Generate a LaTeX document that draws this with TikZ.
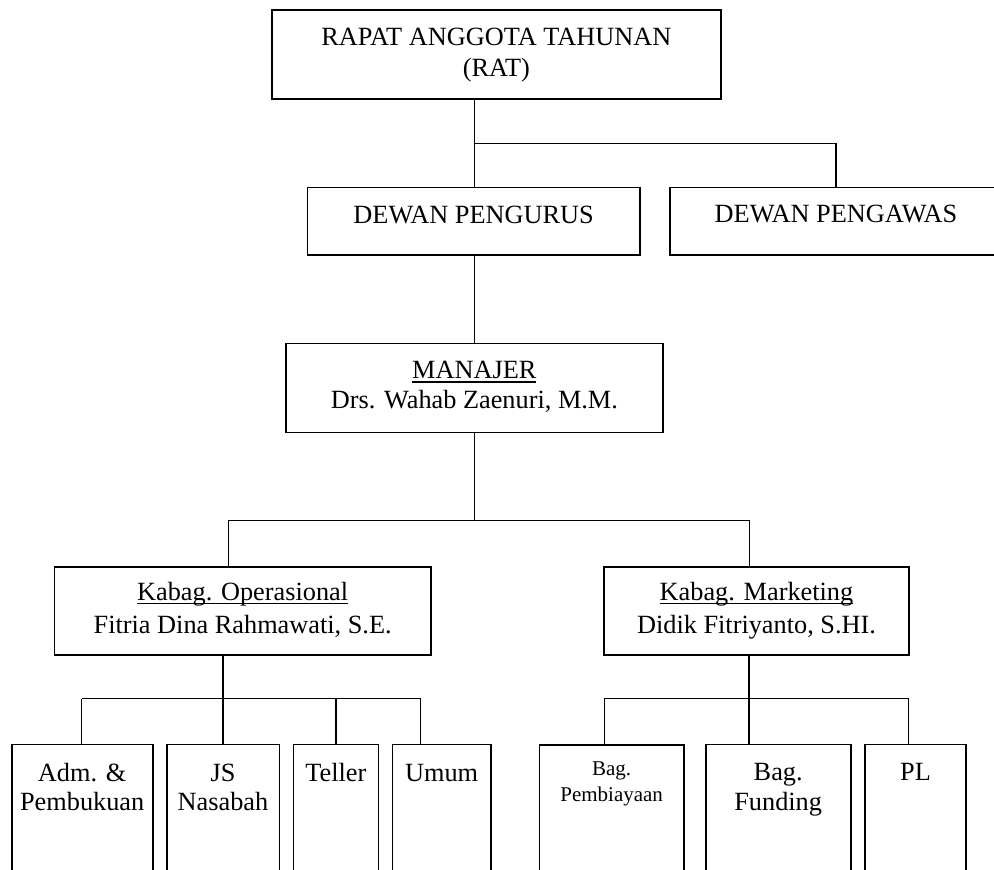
\documentclass[tikz,border=0pt]{standalone}
\usepackage{fontspec}
\setmainfont{Liberation Serif}
\newcommand\bx[6]{\parbox[c][#2pt][t]{#1pt}{\centering\fontsize{#5}{#4}\selectfont\rule{0pt}{#3pt}#6\par}}
\newcommand\myul[1]{\setbox0\hbox{#1}\rlap{\rule[-4.3pt]{\wd0}{1.3pt}}\box0}
\begin{document}
\begin{tikzpicture}[x=1pt,y=-1pt,
  box/.style={draw, line width=1.6pt, inner sep=0pt, outer sep=0pt, anchor=north west},
  conn/.style={line width=1.3pt}]
\useasboundingbox (0,0) rectangle (994,870);
\fill[white] (0,0) rectangle (994,870);
\clip (0,0) rectangle (994,870);
% boxes
\node[box] (top) at (272,10) {\bx{448.7}{89}{35}{31}{26.3}{RAPAT ANGGOTA TAHUNAN\\(RAT)}};
\node[box] (pengurus) at (307.3,187.5) {\bx{332.7}{67.5}{35.8}{30}{26.3}{DEWAN PENGURUS}};
\node[box] (pengawas) at (670,187.5) {\bx{332}{67.5}{34.5}{30}{26.3}{DEWAN PENGAWAS}};
\node[box] (manajer) at (286,343.3) {\bx{376.7}{89}{35}{30}{26.3}{\myul{MANAJER}\\Drs. Wahab Zaenuri, M.M.}};
\node[box] (kop) at (54.3,566.7) {\bx{376.7}{88.3}{33.3}{33.3}{26.3}{\myul{Kabag. Operasional}\\Fitria Dina Rahmawati, S.E.}};
\node[box] (kmk) at (604,566.7) {\bx{305}{88.3}{33.3}{33.3}{26.3}{\myul{Kabag. Marketing}\\Didik Fitriyanto, S.HI.}};
\node[box] (b1) at (11.7,744.5) {\bx{141}{140}{36.5}{29}{26.3}{Adm. \&\\Pembukuan}};
\node[box] (b2) at (166.7,744.5) {\bx{112.6}{140}{36.5}{29}{26.3}{JS\\Nasabah}};
\node[box] (b3) at (293.3,744.5) {\bx{85}{140}{36.5}{29}{26.3}{Teller}};
\node[box] (b4) at (392.3,744.5) {\bx{98.7}{140}{36.5}{29}{26.3}{Umum}};
\node[box] (b5) at (539.3,745) {\bx{144.7}{140}{30}{26.7}{21}{Bag.\\Pembiayaan}};
\node[box] (b6) at (705.7,744.5) {\bx{145}{140}{35.5}{30}{26.3}{Bag.\\Funding}};
\node[box] (b7) at (865,744.5) {\bx{101}{140}{35.5}{30}{26.3}{PL}};
% junctions
\coordinate (j1) at (474.3,143.3);
\coordinate (j2) at (474.3,520.7);
\coordinate (j2l) at (228.3,520.7);
\coordinate (j2r) at (749.5,520.7);
\coordinate (j3) at (223,698.5);
\coordinate (j3l) at (81.7,698.5);
\coordinate (j3m) at (336,698.5);
\coordinate (j3r) at (420.7,698.5);
\coordinate (j4) at (749,698.3);
\coordinate (j4l) at (604.3,698.3);
\coordinate (j4r) at (908.3,698.3);
% connectors
\draw[conn] (top.south -| j1) -- (j1 |- pengurus.north);
\draw[conn] (j1) -| (pengawas.north);
\draw[conn] (pengurus.south -| j1) -- (j1 |- manajer.north);
\draw[conn] (manajer.south -| j2) -- (j2);
\draw[conn] (j2l) -- (j2r);
\draw[conn] (j2l) -- (j2l |- kop.north);
\draw[conn] (j2r) -- (j2r |- kmk.north);
\draw[conn] (kop.south -| j3) -- (j3 |- b2.north);
\draw[conn] (j3l) -- (j3r);
\draw[conn] (j3l) -- (j3l |- b1.north);
\draw[conn] (j3m) -- (j3m |- b3.north);
\draw[conn] (j3r) -- (j3r |- b4.north);
\draw[conn] (kmk.south -| j4) -- (j4 |- b6.north);
\draw[conn] (j4l) -- (j4r);
\draw[conn] (j4l) -- (j4l |- b5.north);
\draw[conn] (j4r) -- (j4r |- b7.north);
\end{tikzpicture}
\end{document}
